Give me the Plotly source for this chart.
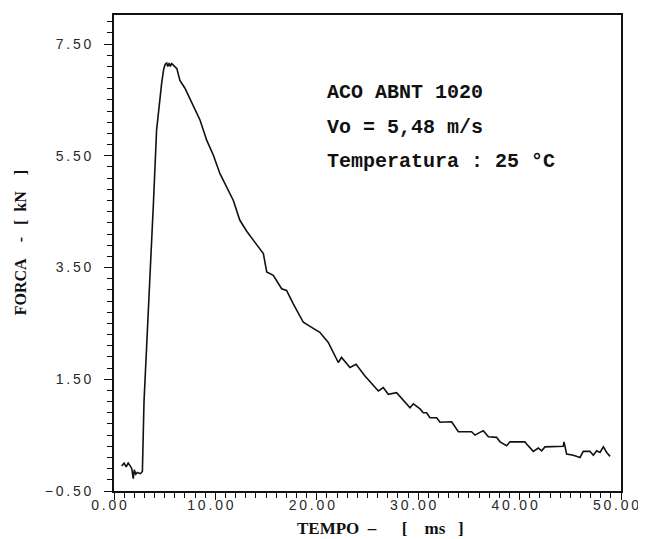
import plotly.graph_objects as go

tempo_ms = [0.76, 1.0, 1.2, 1.4, 1.6, 1.75, 1.9, 2.0, 2.15, 2.3, 2.6, 2.8,
            2.96, 3.2, 3.45, 3.75, 3.9, 4.2, 4.45, 4.7, 4.9, 5.05, 5.2, 5.3, 5.45, 5.55, 5.7,
            6.0, 6.2, 6.5, 7.0, 7.33, 7.82, 8.48, 9.14, 9.8, 10.45, 11.1, 11.77, 12.4,
            13.09, 13.9, 14.73, 15.06, 15.71, 16.53, 17.02, 17.68, 18.67, 19.49, 20.3,
            21.13, 22.12, 22.44, 23.27, 23.87, 24.75, 26.07, 26.56, 27.05, 27.87, 29.19,
            29.52, 30.18, 30.5, 30.83, 31.16, 31.82, 32.15, 33.3, 33.63, 33.96, 35.26,
            35.6, 36.09, 36.42, 36.92, 37.73, 38.07, 38.72, 39.05, 40.53, 40.69, 41.35,
            41.84, 42.17, 42.5, 44.3, 44.38, 44.64, 45.3, 45.96, 46.28, 46.94, 47.27,
            47.6, 47.93, 48.26, 48.59, 48.92]
forca_kn = [-0.05, 0.0, -0.07, 0.0, -0.05, -0.1, -0.28, -0.12, -0.2, -0.17, -0.19, -0.15,
            1.1, 2.0, 2.9, 4.0, 4.7, 5.96, 6.4, 6.8, 7.05, 7.14, 7.16, 7.10, 7.16, 7.10, 7.15,
            7.10, 7.06, 6.85, 6.71, 6.58, 6.38, 6.14, 5.78, 5.51, 5.18, 4.94, 4.70, 4.35,
            4.15, 3.95, 3.75, 3.42, 3.36, 3.12, 3.09, 2.85, 2.52, 2.43, 2.34,
            2.16, 1.80, 1.89, 1.71, 1.77, 1.56, 1.29, 1.35, 1.23, 1.26, 0.99,
            1.06, 0.97, 0.90, 0.90, 0.81, 0.81, 0.73, 0.74, 0.64, 0.56, 0.56,
            0.50, 0.55, 0.58, 0.47, 0.46, 0.38, 0.31, 0.38, 0.38, 0.34, 0.21,
            0.27, 0.22, 0.29, 0.30, 0.38, 0.16, 0.14, 0.10, 0.21, 0.21, 0.14,
            0.22, 0.19, 0.29, 0.19, 0.12]

x_ticks = [0, 10, 20, 30, 40, 50]
x_tick_labels = ["0.00", "10.00", "20.00", "30.00", "40.00", "50.00"]
y_ticks = [-0.5, 1.5, 3.5, 5.5, 7.5]
y_tick_labels = ["\u22120.50", "1.50", "3.50", "5.50", "7.50"]

info_lines = ["ACO ABNT 1020",
              "Vo = 5,48 m/s",
              "Temperatura : 25 °C"]
x_title = "TEMPO  \u2013      [    ms   ]"
y_title = "FORCA    -   [  kN    ]"


def spaced(s, sep="\u2009"):
    # letter-spacing emulation; spaces become non-breaking
    out = []
    for ch in s:
        out.append("\u00a0" if ch == " " else ch)
    return sep.join(out)


def nbsp(s):
    return s.replace(" ", "\u00a0")


fig = go.Figure()
fig.add_trace(go.Scatter(x=tempo_ms, y=forca_kn, mode="lines",
                         line=dict(color="#111111", width=1.6), showlegend=False))

tickfont = dict(family="Liberation Sans", size=14, color="#2a2a2a")
fig.update_xaxes(range=[0, 50], tickvals=x_ticks, ticktext=[spaced(t) for t in x_tick_labels],
                 ticks="outside", ticklen=7, tickwidth=1.3, tickcolor="#111",
                 minor=dict(dtick=1, tick0=0, ticks="outside", ticklen=5, tickwidth=1.2, tickcolor="#111"),
                 showline=True, mirror=True, linecolor="#111", linewidth=1.6,
                 showgrid=False, zeroline=False, tickfont=tickfont, automargin=False,
                 ticklabelstandoff=-7, ticklabelshift=-5)
fig.update_yaxes(range=[-0.5, 8.02], tickvals=y_ticks, ticktext=[spaced(t) for t in y_tick_labels],
                 ticks="outside", ticklen=8, tickwidth=1.3, tickcolor="#111",
                 minor=dict(dtick=0.2, tick0=-0.5, ticks="outside", ticklen=5, tickwidth=1.2, tickcolor="#111"),
                 showline=True, mirror=True, linecolor="#111", linewidth=1.6,
                 showgrid=False, zeroline=False, tickfont=tickfont, ticklabelstandoff=10,
                 automargin=False)

fig.add_annotation(xref="paper", yref="paper", x=0.525, y=-0.078, yanchor="middle",
                   text="<b>" + nbsp(x_title) + "</b>", showarrow=False,
                   font=dict(family="Liberation Serif", size=17, color="#111"))
fig.add_annotation(xref="paper", yref="paper", x=-0.185, y=0.521, xanchor="center", yanchor="middle",
                   text="<b>" + nbsp(y_title) + "</b>", textangle=-90, showarrow=False,
                   font=dict(family="Liberation Serif", size=16, color="#111"))

infofont = dict(family="Liberation Mono", size=20, color="#111")
for i, line in enumerate(info_lines):
    fig.add_annotation(xref="x", yref="y", x=20.85, y=6.63 - i * 0.615, xanchor="left",
                       yanchor="middle", text="<b>" + nbsp(line) + "</b>", showarrow=False,
                       font=infofont)

fig.update_layout(width=638, height=531, margin=dict(l=106, r=25, t=7, b=48),
                  plot_bgcolor="white", paper_bgcolor="white")
fig.write_html("out.html")
